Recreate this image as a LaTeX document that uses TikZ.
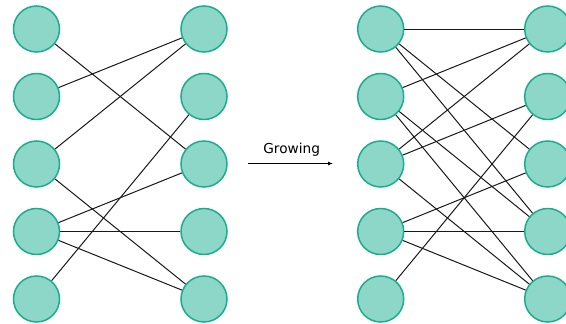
\documentclass[tikz,border=0pt]{standalone}
\usepackage{fontspec}
\setmainfont{DejaVu Sans}
\usetikzlibrary{arrows.meta}
\definecolor{nodefill}{HTML}{8DD7C8}
\definecolor{nodeedge}{HTML}{1AAE8C}
\begin{document}
\begin{tikzpicture}[x=1pt,y=-1pt,
  vert/.style={circle,draw=nodeedge,fill=nodefill,line width=1.5pt,minimum size=46pt,inner sep=0pt},
  edge/.style={draw=black!90,line width=1pt}]
\useasboundingbox (0,0) rectangle (566,324);
\foreach \i/\y in {1/29,2/96.5,3/164,4/231.5,5/299}{
  \node[vert] (a\i) at (36.5,\y) {};
  \node[vert] (b\i) at (204,\y) {};
  \node[vert] (c\i) at (380.7,\y) {};
  \node[vert] (d\i) at (547.7,\y) {};
}
\foreach \s/\t in {1/3,2/1,3/1,3/5,4/3,4/4,4/5,5/2}{
  \draw[edge] (a\s) -- (b\t);
}
\foreach \s/\t in {1/1,1/3,1/4,2/1,2/4,2/5,3/1,3/2,3/5,4/3,4/4,4/5,5/2}{
  \draw[edge] (c\s) -- (d\t);
}
\coordinate (arrs) at (248,163.5);
\coordinate (arre) at (333,163.5);
\draw[line width=1pt,-{Latex[length=5pt,width=4pt]}] (arrs) -- (arre);
\node[font=\fontsize{13.7}{16}\selectfont,anchor=base] (lbl) at (291.7,153) {Growing};
\end{tikzpicture}
\end{document}
